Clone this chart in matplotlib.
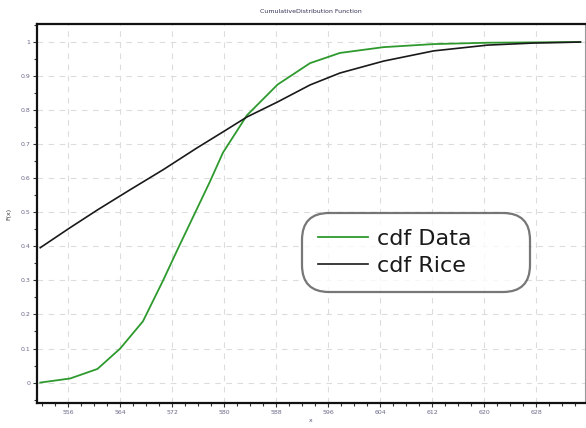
import matplotlib
matplotlib.use("Agg")
import matplotlib.pyplot as plt
from matplotlib.ticker import MultipleLocator

# data
x_data = [551.7, 556.3, 560.5, 564.0, 567.5, 570.6, 572.8, 575.8, 577.8, 579.8,
          583.5, 588.2, 593.2, 597.8, 604.5, 612.2, 620.5, 627.5, 634.8]
cdf_data = [0.0, 0.012, 0.04, 0.10, 0.18, 0.30, 0.39, 0.51, 0.59, 0.675,
            0.785, 0.875, 0.938, 0.968, 0.985, 0.994, 0.998, 0.999, 1.0]
x_rice = [551.7, 556.3, 560.5, 565.5, 570.6, 575.8, 579.8, 583.5, 588.2, 593.2,
          597.8, 604.5, 612.2, 620.5, 627.5, 634.8]
cdf_rice = [0.396, 0.455, 0.507, 0.566, 0.625, 0.689, 0.736, 0.78, 0.824, 0.874,
            0.909, 0.944, 0.974, 0.991, 0.997, 1.0]
x_ticks = [556, 564, 572, 580, 588, 596, 604, 612, 620, 628]
y_ticks = [0, 0.1, 0.2, 0.3, 0.4, 0.5, 0.6, 0.7, 0.8, 0.9, 1]
y_ticklabels = ["0", "0.1", "0.2", "0.3", "0.4", "0.5", "0.6", "0.7", "0.8", "0.9", "1"]

fig = plt.figure(figsize=(5.86, 4.28), dpi=100)
ax = fig.add_axes([37/586, 1-403/428, (585-37)/586, (403-24)/428])

ax.plot(x_data, cdf_data, color="#2e9a2e", lw=1.3, label="cdf Data")
ax.plot(x_rice, cdf_rice, color="#1a1a1a", lw=1.2, label="cdf Rice")

ax.set_xlim(551.2, 635.5)
ax.set_ylim(-0.06, 1.053)
ax.set_xticks(x_ticks)
ax.set_xticklabels([str(v) for v in x_ticks])
ax.set_yticks(y_ticks)
ax.set_yticklabels(y_ticklabels)
ax.xaxis.set_minor_locator(MultipleLocator(2))
ax.yaxis.set_minor_locator(MultipleLocator(0.05))
ax.tick_params(which="both", direction="out", labelsize=4.5, colors="#333333",
               labelcolor="#6a6a8a", pad=2)
ax.tick_params(which="major", length=3, width=0.8)
ax.tick_params(which="minor", length=2, width=0.8)
ax.grid(True, which="major", color="#dcdcdc", linestyle=(0, (5, 5)), lw=0.8)

for s in ["left", "bottom", "top"]:
    ax.spines[s].set_linewidth(1.6)
    ax.spines[s].set_color("#111111")
ax.spines["right"].set_linewidth(0.8)
ax.spines["right"].set_color("#999999")

ax.set_title("CumulativeDistribution Function", fontsize=4.5, color="#333355", pad=8)
ax.set_xlabel("x", fontsize=4.5, color="#555577", labelpad=2)
ax.set_ylabel("F(x)", fontsize=4.5, color="#333333", labelpad=6)

x0 = (302 - 37) / 548
x1 = (530 - 37) / 548
y1 = (403 - 213) / 379
y0 = (403 - 295) / 379
leg = ax.legend(loc="upper left", bbox_to_anchor=(x0, y0, x1 - x0, y1 - y0),
                mode="expand", prop={"family": "DejaVu Sans", "size": 16},
                frameon=True, handlelength=2.25, handletextpad=0.4,
                borderpad=0.72, labelspacing=0.3, borderaxespad=0, fancybox=True)
frame = leg.get_frame()
frame.set_edgecolor("#555555")
frame.set_linewidth(1.6)
frame.set_boxstyle("round,pad=0.0,rounding_size=1.2")
for t in leg.get_texts():
    t.set_color("#1a1a1a")

fig.savefig("out.png", dpi=100)
